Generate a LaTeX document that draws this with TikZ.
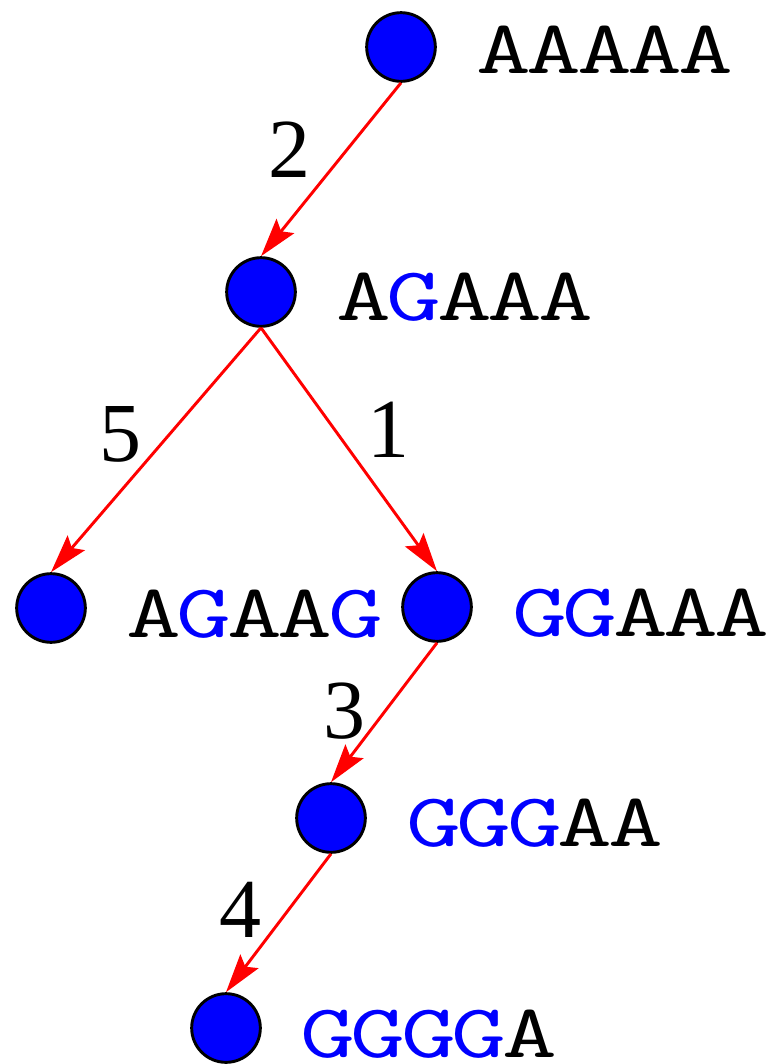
\documentclass[tikz,border=0pt]{standalone}
\usepackage{fontspec}
\newfontfamily\seqfont[FakeStretch=1.40]{Latin Modern Mono}
\newfontfamily\numfont{Liberation Serif}
\usetikzlibrary{arrows.meta}
\definecolor{pureblue}{RGB}{0,0,255}
\definecolor{purered}{RGB}{255,0,0}
\newcommand\chA{\makebox[37.9pt][c]{A}}
\newcommand\chG{\makebox[37.9pt][c]{\textcolor{pureblue}{G}}}
\begin{document}
\begin{tikzpicture}[x=0.75pt,y=-0.75pt,
  state/.style={circle,draw=black,fill=pureblue,line width=2.2pt,minimum size=51.5pt,inner sep=0pt},
  seq/.style={anchor=base west,inner sep=0pt,font=\seqfont\fontsize{57}{57}\selectfont},
  num/.style={anchor=base,inner sep=0pt,font=\numfont\fontsize{63}{63}\selectfont},
  mut/.style={draw=purered,line width=2.2pt,-{Stealth[length=29pt,width=17pt,inset=5pt]}}]
\useasboundingbox (0,0) rectangle (770,1064);
\node[state] (n1) at (401,47) {};
\node[state] (n2) at (261,292) {};
\node[state] (n3) at (51,608) {};
\node[state] (n4) at (437,607) {};
\node[state] (n5) at (331,818) {};
\node[state] (n6) at (226,1028) {};
\node[seq] (t1) at (478,73) {\chA\chA\chA\chA\chA};
\node[seq] (t2) at (338,320) {\chA\chG\chA\chA\chA};
\node[seq] (t3) at (128,637) {\chA\chG\chA\chA\chG};
\node[seq] (t4) at (514,636) {\chG\chG\chA\chA\chA};
\node[seq] (t5) at (408,846) {\chG\chG\chG\chA\chA};
\node[seq] (t6) at (302,1057) {\chG\chG\chG\chG\chA};
\draw[mut] (n1.south) -- (n2.north);
\draw[mut] (n2.south) -- (n3.north);
\draw[mut] (n2.south) -- (n4.north);
\draw[mut] (n4.south) -- (n5.north);
\draw[mut] (n5.south) -- (n6.north);
\node[num] (l2) at (289,177) {2};
\node[num] (l5) at (120,461) {5};
\node[num] (l1) at (388,457) {1};
\node[num] (l3) at (344,738) {3};
\node[num] (l4) at (240,937) {4};
\end{tikzpicture}
\end{document}
